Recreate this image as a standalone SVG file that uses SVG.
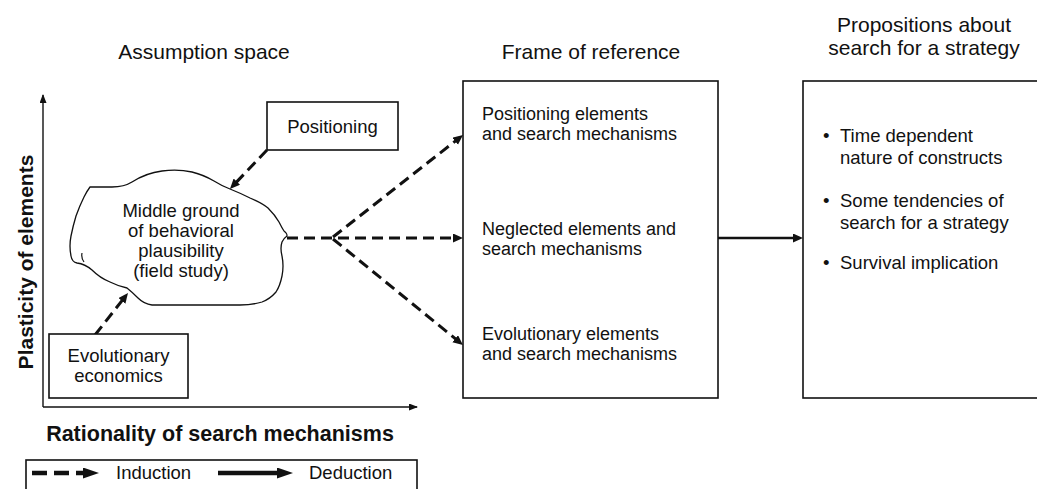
<svg xmlns="http://www.w3.org/2000/svg" width="1037" height="489" viewBox="0 0 1037 489">
<style>
text{font-family:"Liberation Sans",Arial,Helvetica,sans-serif;fill:#111}
.t{font-size:18.5px}
.f{font-size:18px}
.h{font-size:21px;text-anchor:middle}
.c{text-anchor:middle}
.b{font-weight:bold}
.box{fill:#fff;stroke:#111;stroke-width:1.6}
.dash{fill:none;stroke:#111;stroke-width:3;stroke-dasharray:11 6}
.solid{fill:none;stroke:#111;stroke-width:2.6}
.axis{fill:none;stroke:#111;stroke-width:1.4}
</style>
<defs>
<marker id="ah" markerUnits="userSpaceOnUse" markerWidth="12" markerHeight="10" refX="4" refY="4.5" orient="auto">
<path d="M0,0 L10,4.5 L0,9 z" fill="#111"/>
</marker>
<marker id="ax" markerUnits="userSpaceOnUse" markerWidth="10" markerHeight="8" refX="8" refY="3.5" orient="auto">
<path d="M0,0 L9,3.5 L0,7 z" fill="#111"/>
</marker>
<marker id="lg" markerUnits="userSpaceOnUse" markerWidth="18" markerHeight="12" refX="2" refY="5.5" orient="auto">
<path d="M0,0 L16,5.5 L0,11 z" fill="#111"/>
</marker>
</defs>

<g id="titles">
<text class="h" x="204" y="59">Assumption space</text>
<text class="h" x="591" y="59">Frame of reference</text>
<text class="h" x="924" y="32">Propositions about</text>
<text class="h" x="924" y="55">search for a strategy</text>
</g>

<g id="axes">
<line class="axis" x1="43" y1="407" x2="43" y2="95" marker-end="url(#ax)"/>
<line class="axis" x1="43" y1="407" x2="417" y2="407" marker-end="url(#ax)"/>
<text class="b c" font-size="21" transform="translate(33,262) rotate(-90)">Plasticity of elements</text>
<text class="b c" font-size="21.5" x="220" y="441">Rationality of search mechanisms</text>
</g>

<g id="connectors">
<line class="dash" x1="267" y1="150" x2="234.1" y2="184.6" marker-end="url(#ah)"/>
<line class="dash" x1="95" y1="335" x2="124.3" y2="297.7" marker-end="url(#ah)"/>
<line class="dash" x1="287" y1="238" x2="457" y2="238" marker-end="url(#ah)"/>
<line class="dash" x1="333" y1="237" x2="458.3" y2="138.7" marker-end="url(#ah)"/>
<line class="dash" x1="333" y1="239" x2="458.3" y2="341.2" marker-end="url(#ah)"/>
<line class="solid" x1="718" y1="238" x2="797" y2="238" marker-end="url(#ah)"/>
</g>

<g id="node-positioning">
<rect class="box" x="267" y="102" width="131" height="48"/>
<text class="t c" x="332.5" y="133">Positioning</text>
</g>

<g id="node-evolutionary">
<rect class="box" x="49" y="334" width="139" height="64"/>
<text class="t c" x="118.5" y="362">Evolutionary</text>
<text class="t c" x="118.5" y="382">economics</text>
</g>

<g id="node-middle-ground">
<path fill="#fff" stroke="#111" stroke-width="1.3" stroke-linejoin="round" d="M90,187 L112,187 Q124,187 132,182 Q146,173 162,171 Q178,169 192,172 Q204,175 214,181 Q222,186 230,189 Q240,193 250,198 Q262,203 268,208 Q275,215 279,222 Q282,228 284,231 Q287,233 287,236 Q284,238 282,242 Q280,248 282,256 Q284,266 282,276 Q280,286 276,292 Q270,299 262,302 Q252,305 240,305 L200,305 L152,305 Q144,304 138,298 Q132,292 127,288 Q118,286 110,282 Q100,278 92,270 Q85,264 77,263 Q72,262 71,256 Q69,246 71,236 Q73,226 76,216 Q80,205 84,197 Q87,191 90,187 Z"/>
<path fill="none" stroke="#111" stroke-width="1.2" d="M82,253 Q81,258 84,262"/>
<text class="t c" x="181" y="217">Middle ground</text>
<text class="t c" x="181" y="237">of behavioral</text>
<text class="t c" x="181" y="257">plausibility</text>
<text class="t c" x="181" y="277">(field study)</text>
</g>

<g id="node-frame">
<rect class="box" x="463" y="81" width="255" height="317"/>
<text class="f" x="482" y="120">Positioning elements</text>
<text class="f" x="482" y="140">and search mechanisms</text>
<text class="f" x="482" y="235">Neglected elements and</text>
<text class="f" x="482" y="255">search mechanisms</text>
<text class="f" x="482" y="340">Evolutionary elements</text>
<text class="f" x="482" y="360">and search mechanisms</text>
</g>

<g id="node-propositions">
<rect class="box" x="803" y="81" width="240" height="317"/>
<text class="t" x="823" y="142">•</text>
<text class="t" x="840" y="142">Time dependent</text>
<text class="t" x="840" y="164">nature of constructs</text>
<text class="t" x="823" y="207">•</text>
<text class="t" x="840" y="207">Some tendencies of</text>
<text class="t" x="840" y="229">search for a strategy</text>
<text class="t" x="823" y="269">•</text>
<text class="t" x="840" y="269">Survival implication</text>
</g>

<g id="legend">
<rect class="box" x="26" y="460" width="391" height="40"/>
<line x1="32" y1="473" x2="85" y2="473" stroke="#111" stroke-width="4.5" stroke-dasharray="15 7" marker-end="url(#lg)"/>
<text class="t" x="116" y="479">Induction</text>
<line x1="218" y1="473" x2="279" y2="473" stroke="#111" stroke-width="4.5" marker-end="url(#lg)"/>
<text class="t" x="309" y="479">Deduction</text>
</g>
</svg>
